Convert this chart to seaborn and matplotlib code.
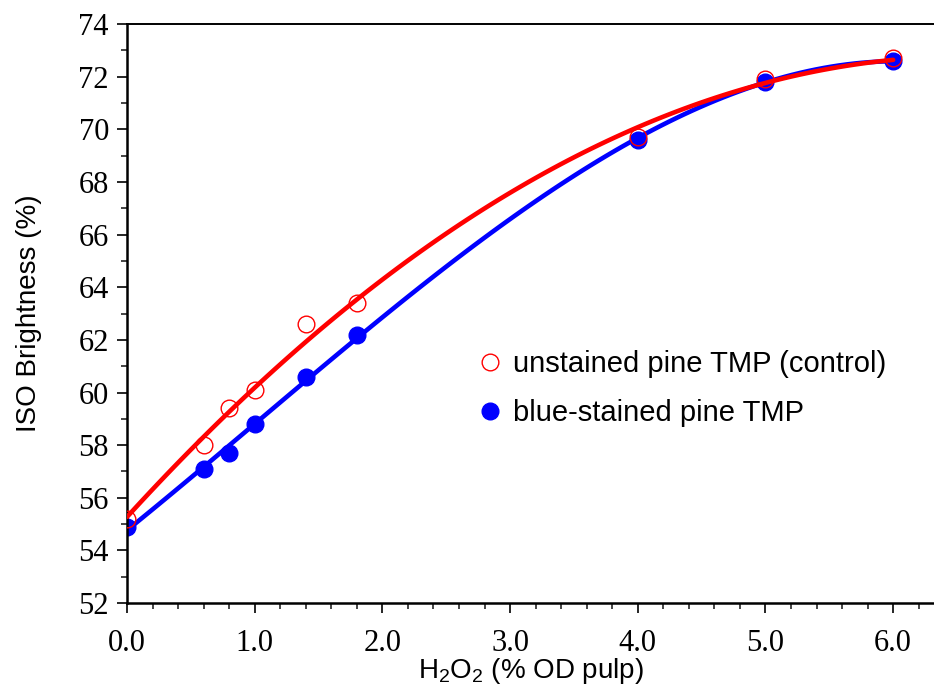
import matplotlib
matplotlib.use("Agg")
import matplotlib.pyplot as plt
import seaborn as sns
import numpy as np
import pandas as pd
from matplotlib.ticker import MultipleLocator, FormatStrFormatter

# H2O2 charge (% OD pulp)
h2o2 = [0.0, 0.6, 0.8, 1.0, 1.4, 1.8, 4.0, 5.0, 6.0]
# ISO brightness (%)
unstained = [55.2, 58.0, 59.4, 60.1, 62.6, 63.4, 69.7, 71.9, 72.7]
blue_stained = [54.9, 57.1, 57.7, 58.8, 60.6, 62.2, 69.6, 71.8, 72.6]

labels = ["unstained pine TMP (control)", "blue-stained pine TMP"]

sns.set_style("white")
plt.rcParams["font.family"] = ["Liberation Sans", "DejaVu Sans"]
plt.rcParams["mathtext.fontset"] = "custom"
plt.rcParams["mathtext.rm"] = "Liberation Sans"
plt.rcParams["mathtext.default"] = "regular"
plt.rcParams["text.color"] = "black"
plt.rcParams["axes.labelcolor"] = "black"

df_red = pd.DataFrame({"x": h2o2, "y": unstained})
df_blue = pd.DataFrame({"x": h2o2, "y": blue_stained})

fig = plt.figure(figsize=(9.34, 6.9), dpi=100)
ax = fig.add_axes([0.136, 0.126, 0.864, 0.839])

# 拟合曲线
sns.regplot(data=df_blue, x="x", y="y", order=3, ci=None, scatter=False,
            color="#0000ff", line_kws={"lw": 3.3, "zorder": 2}, ax=ax)
sns.regplot(data=df_red, x="x", y="y", order=2, ci=None, scatter=False,
            color="#ff0000", line_kws={"lw": 3.3, "zorder": 3}, ax=ax)

# 数据点
ax.plot(df_blue["x"], df_blue["y"], "o", ms=12, color="#0000ff",
        mec="#0000ff", zorder=1.5, label=labels[1])
ax.plot(df_red["x"], df_red["y"], "o", ms=12, mfc="none", mec="#ff0000",
        mew=1.0, zorder=4, label=labels[0])

ax.set_xlim(0, 6.32)
ax.set_ylim(52, 74)
ax.xaxis.set_major_locator(MultipleLocator(1.0))
ax.xaxis.set_minor_locator(MultipleLocator(0.2))
ax.yaxis.set_major_locator(MultipleLocator(2))
ax.yaxis.set_minor_locator(MultipleLocator(1))
ax.xaxis.set_major_formatter(FormatStrFormatter("%.1f"))

ax.tick_params(which="major", direction="out", length=7, width=1.4,
               bottom=True, left=True, labelsize=22,
               labelfontfamily="Liberation Serif", labelcolor="black")
ax.tick_params(axis="x", which="major", pad=12)
ax.tick_params(axis="y", which="major", pad=6)
ax.tick_params(which="minor", direction="out", length=4, width=1.2,
               bottom=True, left=True)

for s in ["left", "bottom"]:
    ax.spines[s].set_linewidth(1.8)
    ax.spines[s].set_color("black")
ax.spines["top"].set_linewidth(1.4)
ax.spines["top"].set_color("black")
ax.spines["right"].set_visible(False)

ax.set_xlabel("H$_2$O$_2$ (% OD pulp)", fontsize=20, labelpad=-2)
ax.set_ylabel("ISO Brightness (%)", fontsize=20, labelpad=26)

handles, labs = ax.get_legend_handles_labels()
ax.legend(handles[::-1], labs[::-1], loc="upper left",
          bbox_to_anchor=(0.403, 0.482), frameon=False, fontsize=21,
          handletextpad=0.4, labelspacing=0.72, handlelength=0.8)

plt.savefig("out.png", dpi=100)
